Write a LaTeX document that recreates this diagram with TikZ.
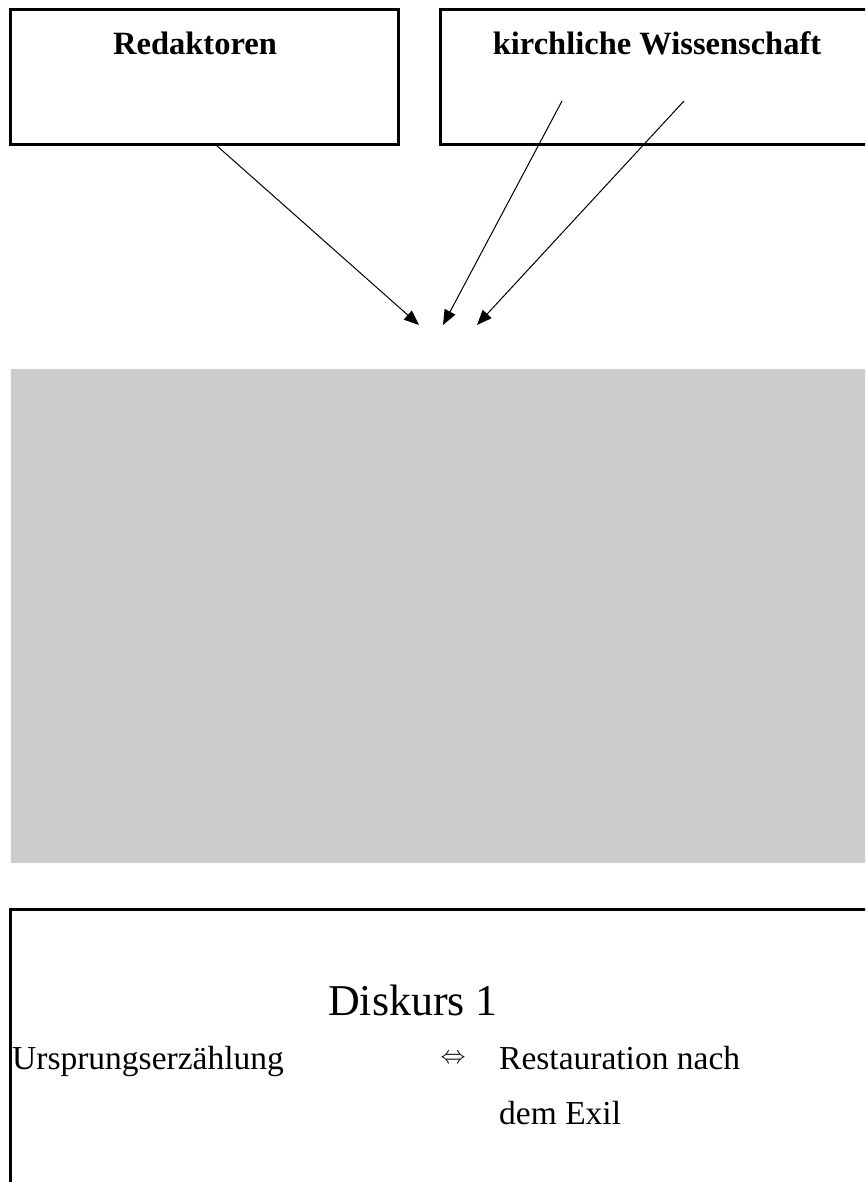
\documentclass[tikz,border=0pt]{standalone}
\usepackage{fontspec}
\setmainfont{Liberation Serif}
\usetikzlibrary{arrows.meta}
\begin{document}
\begin{tikzpicture}[x=1pt,y=-1pt,
  framebox/.style={draw=black, line width=3pt, fill=none, inner sep=0pt},
  headlabel/.style={font=\fontsize{32.5}{36}\selectfont\bfseries, anchor=base, inner sep=0pt},
  bodytext/.style={font=\fontsize{33.5}{40}\selectfont, anchor=base west, inner sep=0pt},
  conn/.style={line width=1pt, -{Triangle[length=15pt,width=12pt]}}]
\useasboundingbox (0,0) rectangle (865,1182);
\clip (0,0) rectangle (865,1182);
% top boxes
\node[framebox, minimum width=388pt, minimum height=135pt] (red) at (204,77.5) {};
\node[framebox, minimum width=480pt, minimum height=135pt] (kw) at (680,77.5) {};
\node[headlabel] (redt) at (195,55) {Redaktoren};
\node[headlabel] (kwt) at (657,55) {kirchliche Wissenschaft};
% grey area
\node[fill={rgb,255:red,204;green,204;blue,204}, draw=none, inner sep=0pt,
      minimum width=880pt, minimum height=494pt] (grey) at (451,616) {};
% arrow ends
\coordinate (s1) at (216,145);
\coordinate (s2) at (562,101);
\coordinate (s3) at (684,101);
\coordinate (t1) at (419,325);
\coordinate (t2) at (443,325);
\coordinate (t3) at (477,325);
\draw[conn] (s1) -- (t1);
\draw[conn] (s2) -- (t2);
\draw[conn] (s3) -- (t3);
% bottom box
\node[framebox, minimum width=900pt, minimum height=320pt] (disk) at (460,1069) {};
\node[font=\fontsize{44}{50}\selectfont, anchor=base, inner sep=0pt] (dt) at (413,1015) {Diskurs 1};
\node[bodytext] (u) at (12,1069) {Ursprungserzählung};
\node[inner sep=0pt, anchor=center] (eq) at (453,1059) {\resizebox{25pt}{!}{$\Leftrightarrow$}};
\node[bodytext] (r1) at (499,1069) {Restauration nach};
\node[bodytext] (r2) at (499,1124) {dem Exil};
\end{tikzpicture}
\end{document}
